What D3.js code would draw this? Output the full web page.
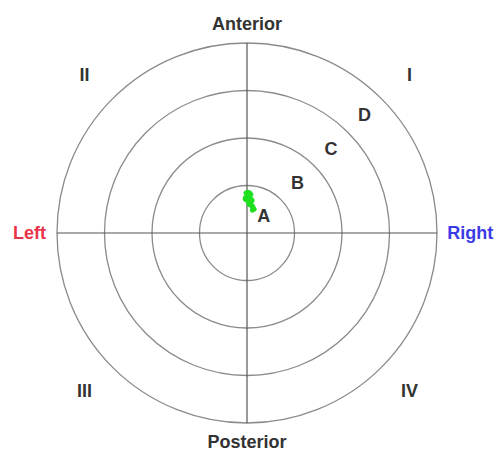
<!DOCTYPE html>
<html>
<head>
<meta charset="utf-8">
<script src="https://cdn.jsdelivr.net/npm/d3@7"></script>
<style>
  body { margin: 0; background: #fff; }
  text { font-family: "Liberation Sans", Arial, sans-serif; font-weight: bold; }
</style>
</head>
<body>
<div id="chart"></div>
<script>
// ring levels and their labels
var rings = [1, 2, 3, 4];
var ringLabels = ["A", "B", "C", "D"];
var quadrants = ["I", "II", "III", "IV"];
var quadrantAngles = [45, 135, 225, 315];
var directions = ["Right", "Anterior", "Left", "Posterior"];
var directionColors = ["#3a3ae6", "#333", "#e8334a", "#333"];

// sway trace (x = right, y = anterior), in ring units
var traceX = [-0.02, 0.02, 0.06, 0.08, 0.04, -0.02, -0.04, 0.0, 0.06, 0.11, 0.08, 0.04, 0.06, 0.11, 0.13, 0.11, 0.15];
var traceY = [0.84, 0.86, 0.84, 0.80, 0.78, 0.76, 0.72, 0.69, 0.72, 0.69, 0.65, 0.63, 0.59, 0.57, 0.53, 0.48, 0.50];

var width = 497, height = 453;
var cx = 247, cy = 233;
var maxR = 190;

var svg = d3.select("#chart")
  .append("svg")
  .attr("width", width)
  .attr("height", height)
  .append("g")
  .attr("transform", `translate(${cx}, ${cy})`);

var r = d3.scaleLinear().domain([0, 4]).range([0, maxR]);
var x = d3.scaleLinear().domain([-4, 4]).range([-maxR, maxR]);
var y = d3.scaleLinear().domain([-4, 4]).range([maxR, -maxR]);

// circles
svg.selectAll("circle.ring")
  .data(rings)
  .enter()
  .append("circle")
    .attr("class", "ring")
    .attr("r", d => r(d))
    .attr("fill", "none")
    .attr("stroke", "#8a8a8a")
    .attr("stroke-width", 1.3);

// cross lines
svg.append("line")
  .attr("x1", x(-4)).attr("x2", x(4)).attr("y1", 0).attr("y2", 0)
  .attr("stroke", "#555").attr("stroke-width", 1.2);
svg.append("line")
  .attr("x1", 0).attr("x2", 0).attr("y1", y(4)).attr("y2", y(-4))
  .attr("stroke", "#555").attr("stroke-width", 1.2);

// ring labels on the diagonal, at ring midpoints
svg.selectAll("text.ringlabel")
  .data(ringLabels)
  .enter()
  .append("text")
    .attr("class", "ringlabel")
    .attr("x", (d, i) => x((i + 0.5) * Math.cos(Math.PI / 4)))
    .attr("y", (d, i) => y((i + 0.5) * Math.sin(Math.PI / 4)))
    .attr("text-anchor", "middle")
    .attr("dominant-baseline", "central")
    .attr("font-size", 18)
    .attr("fill", "#333")
    .text(d => d);

// quadrant numerals
svg.selectAll("text.quad")
  .data(quadrants)
  .enter()
  .append("text")
    .attr("class", "quad")
    .attr("x", (d, i) => x(4.84 * Math.cos(quadrantAngles[i] * Math.PI / 180)))
    .attr("y", (d, i) => y(4.71 * Math.sin(quadrantAngles[i] * Math.PI / 180)))
    .attr("text-anchor", "middle")
    .attr("dominant-baseline", "central")
    .attr("font-size", 18)
    .attr("fill", "#333")
    .text(d => d);

// direction labels
var dirPos = [[4.7, 0], [0, 4.4], [-4.58, 0], [0, -4.39]];
svg.selectAll("text.dir")
  .data(directions)
  .enter()
  .append("text")
    .attr("class", "dir")
    .attr("x", (d, i) => x(dirPos[i][0]))
    .attr("y", (d, i) => y(dirPos[i][1]))
    .attr("text-anchor", "middle")
    .attr("dominant-baseline", "central")
    .attr("font-size", 18)
    .attr("fill", (d, i) => directionColors[i])
    .text(d => d);

// trace
var pts = traceX.map((v, i) => [v, traceY[i]]);
svg.append("path")
  .datum(pts)
  .attr("d", d3.line().x(d => x(d[0])).y(d => y(d[1])).curve(d3.curveCatmullRom))
  .attr("fill", "none")
  .attr("stroke", "#1ee01e")
  .attr("stroke-width", 5)
  .attr("stroke-linejoin", "round")
  .attr("stroke-linecap", "round");
</script>
</body>
</html>
